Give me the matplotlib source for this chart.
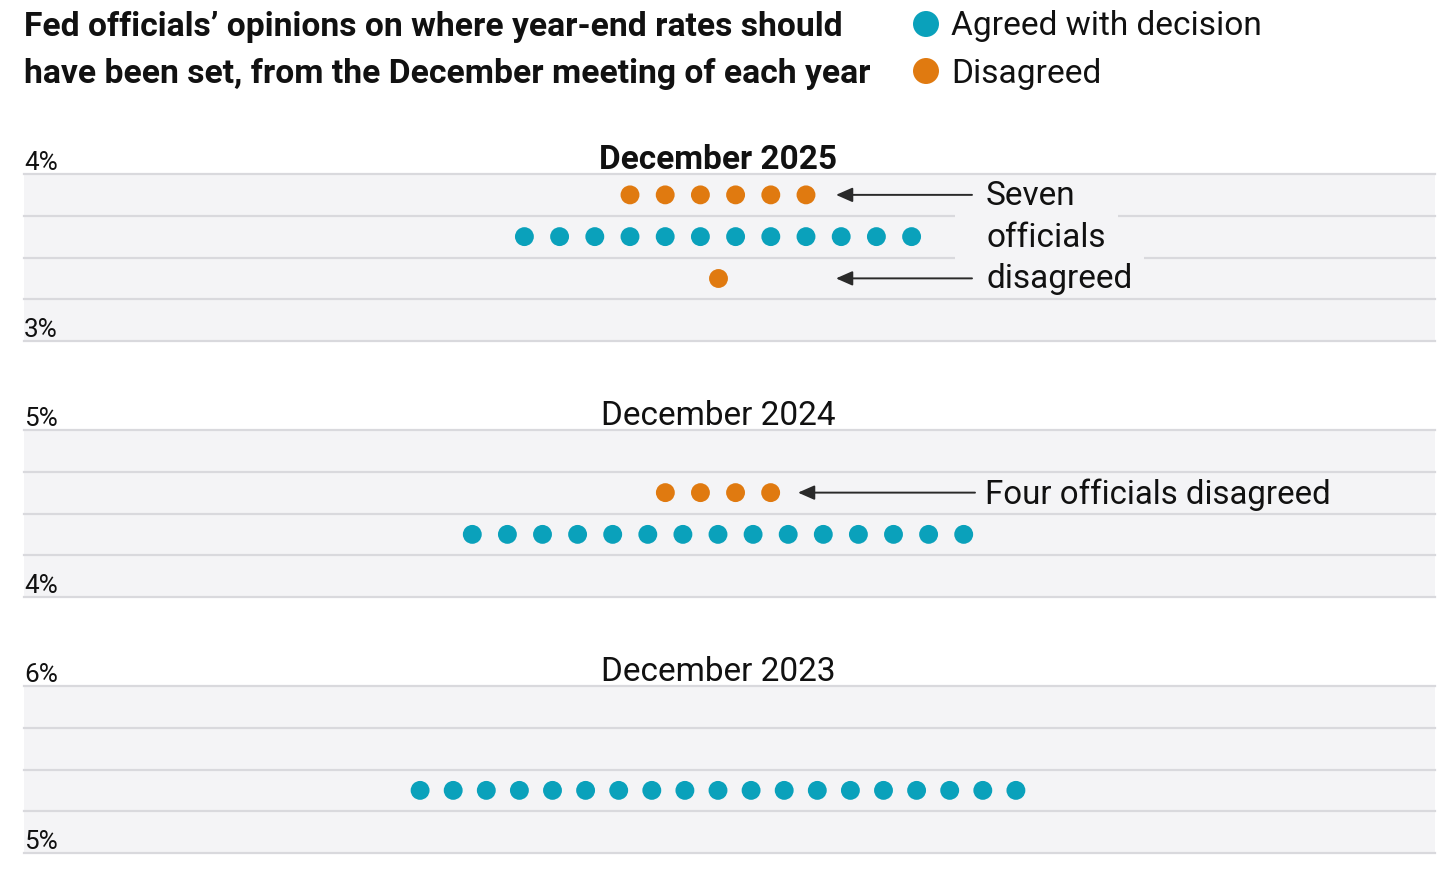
import matplotlib.pyplot as plt
from matplotlib.patches import Rectangle
import numpy as np

plt.rcParams['font.family'] = ['Roboto', 'DejaVu Sans']

# data
panel_titles = ['December 2025', 'December 2024', 'December 2023']
panel_bold = [True, False, False]
rate_floor = [3, 4, 5]
row_levels = [[3.875, 3.625, 3.375], [4.625, 4.375], [5.375]]
agreed = [[0, 12, 0], [0, 15], [19]]
disagreed = [[6, 0, 1], [4, 0], [0]]

teal = '#0aa1bb'
orange = '#e07a10'
band = '#f4f4f6'
grid = '#d9d9dd'
ink = '#111111'

W, H = 1456, 881
fig = plt.figure(figsize=(W / 100, H / 100), dpi=100)
renderer = fig.canvas.get_renderer()

# layout in pixels
left_px, right_px = 24, 1435
panel_tops = [174, 430, 686]
panel_h = 167
spacing = [35.2, 35.1, 33.1]
center = 694
dot_s = 185
big = 24

axes = []
for p in range(3):
    top = panel_tops[p]
    ax = fig.add_axes([left_px / W, 1 - (top + panel_h) / H,
                       (right_px - left_px) / W, panel_h / H])
    lo = rate_floor[p]
    ax.set_xlim(0, right_px - left_px)
    ax.set_ylim(lo, lo + 1)
    ax.set_facecolor(band)
    for s in ax.spines.values():
        s.set_visible(False)
    ax.set_xticks([])
    ax.set_yticks([])
    for k in range(5):
        ax.axhline(lo + 0.25 * k, color=grid, lw=1.6, clip_on=False, zorder=1)

    for lvl, na, nd in zip(row_levels[p], agreed[p], disagreed[p]):
        n = na + nd
        xs = center + (np.arange(n) - (n - 1) / 2) * spacing[p]
        cols = [teal] * na + [orange] * nd
        ax.scatter(xs, [lvl] * n, s=dot_s, c=cols, linewidths=0, zorder=3)

    for val in (lo + 1, lo):
        ax.annotate(f'{val}%', xy=(0, val), xytext=(0, 4), textcoords='offset pixels',
                    ha='left', va='baseline', fontsize=18.7, color=ink,
                    annotation_clip=False)
    ax.annotate(panel_titles[p], xy=(center, lo + 1), xytext=(0, 5),
                textcoords='offset pixels', ha='center', va='baseline',
                fontsize=big, color=ink,
                fontweight='bold' if panel_bold[p] else 'normal',
                annotation_clip=False)
    axes.append(ax)

arrow_kw = dict(arrowstyle='-|>,head_length=0.5,head_width=0.22', color='#2a2a2a',
                lw=1.4, shrinkA=0, shrinkB=0, mutation_scale=20)

# December 2025 annotations
ax = axes[0]
ax.annotate('', xy=(836 - left_px, 3.875), xytext=(972 - left_px, 3.875), arrowprops=arrow_kw, zorder=4)
ax.annotate('', xy=(836 - left_px, 3.375), xytext=(972 - left_px, 3.375), arrowprops=arrow_kw, zorder=4)
for txt, lvl in zip(['Seven', 'officials', 'disagreed'], row_levels[0]):
    t = ax.annotate(txt, xy=(986 - left_px, lvl), xytext=(0, -10), textcoords='offset pixels',
                    ha='left', va='baseline', fontsize=big, color=ink, zorder=5)
    if txt != 'Seven':
        # knock out the gridline just above this line of text
        x_end = ax.transData.inverted().transform(t.get_window_extent(renderer).p1)[0]
        ax.add_patch(Rectangle((955 - left_px, lvl + 0.105), x_end + 12 - (955 - left_px), 0.04,
                               fc=band, ec='none', zorder=2))

# December 2024 annotation
ax = axes[1]
ax.annotate('', xy=(798 - left_px, 4.625), xytext=(975 - left_px, 4.625), arrowprops=arrow_kw, zorder=4)
ax.annotate('Four officials disagreed', xy=(985 - left_px, 4.625), xytext=(0, -11),
            textcoords='offset pixels', ha='left', va='baseline', fontsize=23.8, color=ink)

# header: title and legend
hdr = fig.add_axes([0, 0, 1, 1])
hdr.set_xlim(0, W)
hdr.set_ylim(H, 0)
hdr.set_axis_off()
hdr.text(24, 36, 'Fed officials’ opinions on where year-end rates should',
         fontsize=24.2, fontweight='bold', color=ink, va='baseline')
hdr.text(24, 83, 'have been set, from the December meeting of each year',
         fontsize=24.2, fontweight='bold', color=ink, va='baseline')
hdr.scatter([926, 926], [24, 71], s=350, c=[teal, orange], linewidths=0)
hdr.text(951, 35, 'Agreed with decision', fontsize=24.1, color=ink, va='baseline')
hdr.text(951, 83, 'Disagreed', fontsize=24.1, color=ink, va='baseline')

fig.savefig('out.png', dpi=100, facecolor='white')
